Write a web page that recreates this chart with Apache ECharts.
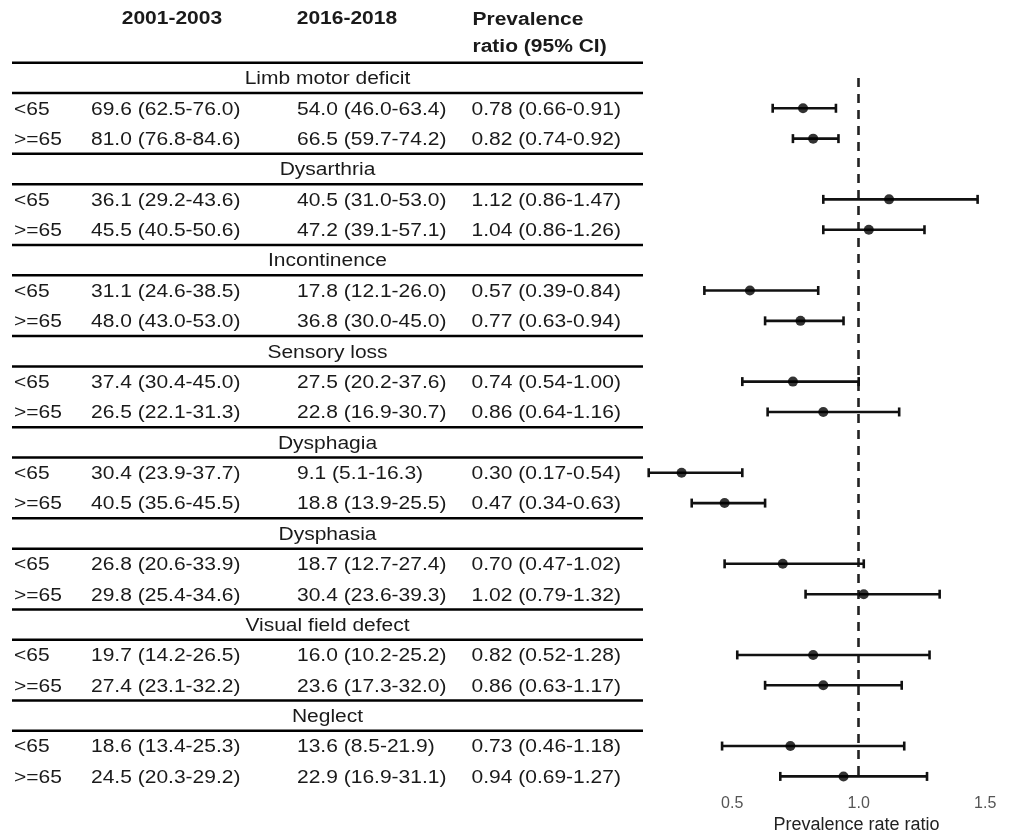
<!DOCTYPE html>
<html>
<head>
<meta charset="utf-8">
<script src="https://cdn.jsdelivr.net/npm/echarts@6/dist/echarts.min.js"></script>
<style>
html,body{margin:0;padding:0;background:#fff;}
#chart{width:1010px;height:832px;}
</style>
</head>
<body>
<div id="chart"></div>
<script>
// ---- data ----
const groups = ['Limb motor deficit','Dysarthria','Incontinence','Sensory loss','Dysphagia','Dysphasia','Visual field defect','Neglect'];
const ageBands = ['<65','>=65'];
const rate2001 = [69.6,81.0,36.1,45.5,31.1,48.0,37.4,26.5,30.4,40.5,26.8,29.8,19.7,27.4,18.6,24.5];
const lo2001   = [62.5,76.8,29.2,40.5,24.6,43.0,30.4,22.1,23.9,35.6,20.6,25.4,14.2,23.1,13.4,20.3];
const hi2001   = [76.0,84.6,43.6,50.6,38.5,53.0,45.0,31.3,37.7,45.5,33.9,34.6,26.5,32.2,25.3,29.2];
const rate2016 = [54.0,66.5,40.5,47.2,17.8,36.8,27.5,22.8,9.1,18.8,18.7,30.4,16.0,23.6,13.6,22.9];
const lo2016   = [46.0,59.7,31.0,39.1,12.1,30.0,20.2,16.9,5.1,13.9,12.7,23.6,10.2,17.3,8.5,16.9];
const hi2016   = [63.4,74.2,53.0,57.1,26.0,45.0,37.6,30.7,16.3,25.5,27.4,39.3,25.2,32.0,21.9,31.1];
const ratio    = [0.78,0.82,1.12,1.04,0.57,0.77,0.74,0.86,0.30,0.47,0.70,1.02,0.82,0.86,0.73,0.94];
const ratioLo  = [0.66,0.74,0.86,0.86,0.39,0.63,0.54,0.64,0.17,0.34,0.47,0.79,0.52,0.63,0.46,0.69];
const ratioHi  = [0.91,0.92,1.47,1.26,0.84,0.94,1.00,1.16,0.54,0.63,1.02,1.32,1.28,1.17,1.18,1.27];
const xTicks   = [0.5, 1.0, 1.5];
const refValue = 1.0;

// ---- build categories ----
const cats = [];
const rowCat = [];   // category name for each data row
groups.forEach(g => {
  cats.push(g);
  ageBands.forEach(a => { const n = g + ' ' + a; cats.push(n); rowCat.push(n); });
});

const ciData = rowCat.map((c, i) => [ratioLo[i], ratioHi[i], c]);
const ptData = rowCat.map((c, i) => [ratio[i], c]);

const FONT = 'Liberation Sans, Arial, sans-serif';
const chart = echarts.init(document.getElementById('chart'), null, {renderer: 'canvas'});

const option = {
  animation: false,
  backgroundColor: '#fff',
  grid: {left: 605.7, right: 24.8, top: 62.7, bottom: 40.4, containLabel: false, outerBoundsMode: 'none'},
  xAxis: {
    type: 'value', min: 0, max: 1.5, interval: 0.5,
    axisLine: {show: false}, axisTick: {show: false}, splitLine: {show: false},
    axisLabel: {
      margin: 4, color: '#555', fontSize: 16, fontFamily: FONT,
      formatter: v => xTicks.some(t => Math.abs(t - v) < 1e-9) ? v.toFixed(1) : ''
    },
    name: 'Prevalence rate ratio', nameLocation: 'middle', nameGap: 22,
    nameTextStyle: {fontSize: 18, color: '#222', fontFamily: FONT, padding: [0, 0, 0, 122]}
  },
  yAxis: {
    type: 'category', data: cats, inverse: true, show: false,
    axisLine: {show: false}, axisTick: {show: false}
  },
  series: [
    {
      type: 'custom',
      data: ciData,
      encode: {x: [0, 1], y: 2},
      z: 3,
      renderItem: (params, api) => {
        const a = api.coord([api.value(0), api.value(2)]);
        const b = api.coord([api.value(1), api.value(2)]);
        const h = 4.5;
        const st = {stroke: '#111', lineWidth: 2.6};
        return {
          type: 'group',
          children: [
            {type: 'line', shape: {x1: a[0], y1: a[1], x2: b[0], y2: b[1]}, style: st},
            {type: 'line', shape: {x1: a[0], y1: a[1] - h, x2: a[0], y2: a[1] + h}, style: st},
            {type: 'line', shape: {x1: b[0], y1: b[1] - h, x2: b[0], y2: b[1] + h}, style: st}
          ]
        };
      }
    },
    {
      type: 'scatter',
      data: ptData,
      symbol: 'circle', symbolSize: 10,
      itemStyle: {color: '#000'},
      z: 4,
      markLine: {
        silent: true, symbol: 'none', z: 2,
        label: {show: false},
        lineStyle: {color: '#222', width: 2.6, type: [9, 7]},
        data: [[{coord: [refValue, cats[0]]}, {coord: [refValue, cats[cats.length - 1]]}]]
      }
    }
  ]
};
chart.setOption(option);

// ---- table drawn as graphic text aligned to the category rows ----
const yOf = i => chart.convertToPixel({yAxisIndex: 0}, i);
const rowH = yOf(1) - yOf(0);
const SX = 1.2;
const FS = 17.5;
const TXT = '#1a1a1a';
const DY = 1.5;
const tableL = 12, tableR = 643;
const colX = [14, 91, 297, 471.5];

function txt(str, x, y, align, bold) {
  return {
    type: 'text', x: x, y: y, scaleX: SX, silent: true,
    style: {
      text: str, fill: TXT,
      font: (bold ? 'bold ' : '') + FS + 'px ' + FONT,
      textAlign: align, align: align,
      textVerticalAlign: 'middle', verticalAlign: 'middle'
    }
  };
}
function hline(y) {
  return {type: 'line', silent: true, shape: {x1: tableL, y1: y, x2: tableR, y2: y},
          style: {stroke: '#000', lineWidth: 2.5}};
}

const els = [];
els.push(txt('2001-2003', 121.7, 19, 'left', true));
els.push(txt('2016-2018', 296.7, 19, 'left', true));
els.push(txt('Prevalence', 472.5, 20, 'left', true));
els.push(txt('ratio (95% CI)', 472.5, 47, 'left', true));

let r = 0;
cats.forEach((c, ci) => {
  const y = yOf(ci);
  const gi = groups.indexOf(c);
  if (gi >= 0) {
    els.push(hline(y - rowH / 2));
    els.push(hline(y + rowH / 2));
    els.push(txt(c, (tableL + tableR) / 2, y + DY, 'center', false));
  } else {
    const band = ageBands[r % 2];
    const ty = y + DY;
    els.push(txt(band, colX[0], ty, 'left', false));
    els.push(txt(rate2001[r].toFixed(1) + ' (' + lo2001[r].toFixed(1) + '-' + hi2001[r].toFixed(1) + ')', colX[1], ty, 'left', false));
    els.push(txt(rate2016[r].toFixed(1) + ' (' + lo2016[r].toFixed(1) + '-' + hi2016[r].toFixed(1) + ')', colX[2], ty, 'left', false));
    els.push(txt(ratio[r].toFixed(2) + ' (' + ratioLo[r].toFixed(2) + '-' + ratioHi[r].toFixed(2) + ')', colX[3], ty, 'left', false));
    r++;
  }
});
chart.setOption({graphic: els});
</script>
</body>
</html>
